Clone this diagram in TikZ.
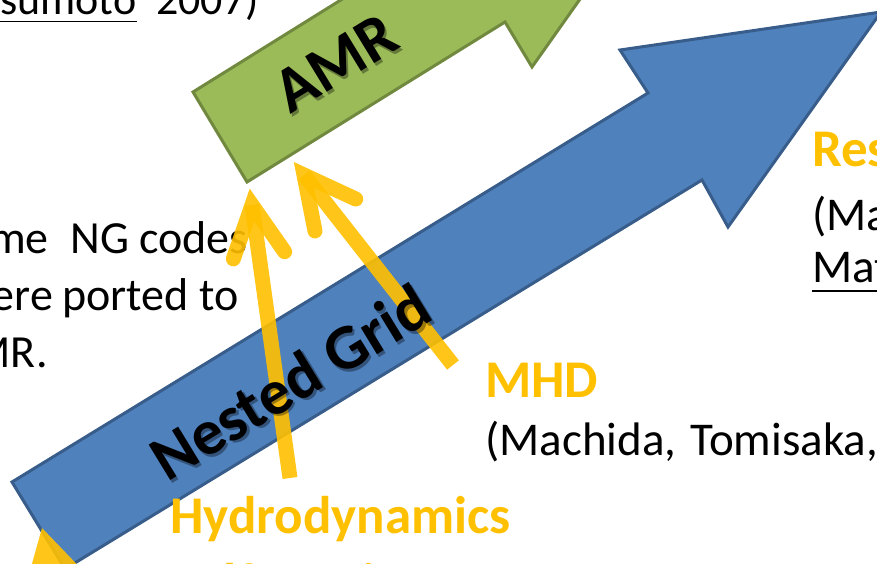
\documentclass[tikz,border=0pt]{standalone}
\usepackage{fontspec}
\setmainfont{Carlito}
\usetikzlibrary{calc}

\definecolor{ngblue}{HTML}{4F81BD}
\definecolor{ngblueline}{HTML}{385D8A}
\definecolor{amrgreen}{HTML}{9BBB59}
\definecolor{amrgreenline}{HTML}{71893F}
\definecolor{headyellow}{HTML}{FFC000}

\tikzset{
  bodytext/.style={inner sep=0pt, font=\fontsize{46}{56}\selectfont},
  sidetext/.style={anchor=base west, inner sep=0pt, font=\fontsize{47}{57}\selectfont},
  headtext/.style={anchor=base west, inner sep=0pt, text=headyellow,
                   font=\fontsize{53}{64}\selectfont\bfseries},
  shaftlabel/.style={anchor=base west, inner sep=0pt, rotate=31.4,
                     font=\fontsize{64}{76}\selectfont\bfseries},
  labelshadow/.style={shaftlabel, text=black, text opacity=0.35},
  bluearrow/.style={fill=ngblue, draw=ngblueline, line width=3pt, line join=miter},
  greenarrow/.style={fill=amrgreen, draw=amrgreenline, line width=3pt, line join=miter},
  yshaft/.style={draw=headyellow, draw opacity=0.9, line width=15pt, line cap=butt},
  yhead/.style={draw=headyellow, draw opacity=0.9, line width=15pt,
                line cap=round, line join=miter},
  ypoint/.style={fill=headyellow, fill opacity=0.9},
}

\begin{document}
\begin{tikzpicture}[x=1pt, y=-1pt]
\useasboundingbox (0,0) rectangle (877,564);
\clip (0,0) rectangle (877,564);

% ---- Nested Grid block arrow
\draw[bluearrow] (12,482) -- (648,93) -- (620,50) -- (881,12)
  -- (728,227) -- (702,180) -- (65,569) -- cycle;

% ---- AMR block arrow
\draw[greenarrow] (193,92) -- (450,-68) -- (422,-112) -- (684,-148)
  -- (532,67) -- (505,22) -- (247,182) -- cycle;

% ---- plain text
\node[inner sep=0pt, anchor=base west, font=\fontsize{44}{53}\selectfont] (ref)
  at (0,15) {sumoto\hspace{20pt}2007)};
\draw[line width=1.6pt] (0,21.5) -- (137,21.5);

\node[bodytext, anchor=base east] (ngA) at (248,253) {me\hspace{22pt}NG\hspace{10pt}codes};
\node[bodytext, anchor=base east] (ngB) at (239,310) {ere\hspace{9pt}ported\hspace{11pt}to};
\node[bodytext, anchor=base east] (ngC) at (48,367) {MR.};

\node[headtext] (mhd) at (485,397) {MHD};
\node[sidetext] (mhdref) at (485,455) {(Machida,\hspace{14pt}Tomisaka,};

\node[headtext] (hydro) at (170,533) {Hydrodynamics};
\node[headtext] (selfg) at (172,600) {Self-gravity};

\node[headtext] (res) at (812,167) {Res};
\node[sidetext] (resref) at (812,230) {(Ma};
\node[sidetext] (resrefb) at (812,282) {Mat};
\draw[line width=1.6pt] (812,291) -- (877,291);

% ---- yellow arrows into the AMR arrow
\coordinate (hS) at (290,478);
\coordinate (hT) at (252,205);
\draw[yshaft] (hS) -- (hT);
\draw[yhead] ($(hT)!57pt!27:(hS)$) -- (hT) -- ($(hT)!57pt!-27:(hS)$);

\coordinate (mS) at (453,365);
\coordinate (mT) at (304,175);
\draw[yshaft] (mS) -- (mT);
\draw[yhead] ($(mT)!57pt!27:(mS)$) -- (mT) -- ($(mT)!57pt!-27:(mS)$);

% ---- arrow point at the tail of the blue arrow
\fill[ypoint] (42,528) -- (90,578) -- (28,578) -- cycle;

% ---- labels on the block arrows
\node[labelshadow] at (169.5,485.5) {Nested Grid};
\node[shaftlabel] (nglabel) at (167,483) {Nested Grid};
\node[labelshadow] at (292.5,117.5) {AMR};
\node[shaftlabel] (amrlabel) at (290,115) {AMR};
\end{tikzpicture}
\end{document}
